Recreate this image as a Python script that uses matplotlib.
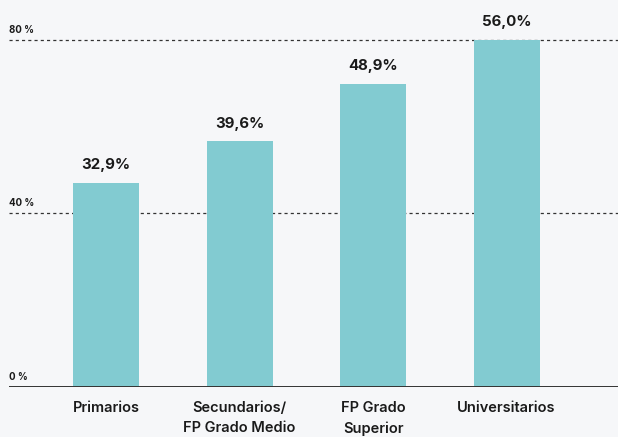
import matplotlib
matplotlib.use("Agg")
import matplotlib.pyplot as plt

categories = ["Primarios", "Secundarios/\nFP Grado Medio", "FP Grado\nSuperior", "Universitarios"]
values = [32.9, 39.6, 48.9, 56.0]
value_labels = ["32,9%", "39,6%", "48,9%", "56,0%"]
tick_positions = [0, 28, 56]
tick_labels = ["0 %", "40 %", "80 %"]

bg = "#F6F7F9"
bar_color = "#82CBD1"
text_color = "#1a1a1a"

plt.rcParams['font.family'] = ['Inter', 'DejaVu Sans']

fig = plt.figure(figsize=(6.18, 4.37), dpi=100, facecolor=bg)
ax = fig.add_axes([9/618, (437-387)/437, 1 - 9/618, 387/437])
ax.set_facecolor(bg)

x = list(range(len(categories)))
ax.bar(x, values, width=0.494, color=bar_color, zorder=2)

ax.set_xlim(-0.727, 3.835)
ymax = 56 * 387 / (387 - 39.5)
ax.set_ylim(0, ymax)

for t, lab in zip(tick_positions, tick_labels):
    if t > 0:
        ax.axhline(t, color="#333333", lw=0.9, ls=(0, (2.5, 2.5)), zorder=1)
    ax.annotate(lab, xy=(0, t), xycoords=("axes fraction", "data"),
                xytext=(0, 3.5), textcoords="offset points",
                ha="left", va="bottom", fontsize=7, fontweight="bold",
                color=text_color)

ax.axhline(0, color="#333333", lw=1.4, zorder=3)

for xi, v, lab in zip(x, values, value_labels):
    ax.annotate(lab, xy=(xi, v), xytext=(0, 7.5), textcoords="offset points",
                ha="center", va="bottom", fontsize=10.8, fontweight="bold",
                color=text_color)

ax.set_xticks(x)
ax.set_xticklabels(categories, fontsize=10.5, fontweight="semibold", color=text_color,
                   linespacing=1.55)
ax.tick_params(axis="x", length=0, pad=10)
ax.set_yticks([])
for s in ax.spines.values():
    s.set_visible(False)

fig.savefig("out.png", dpi=100, facecolor=bg)
